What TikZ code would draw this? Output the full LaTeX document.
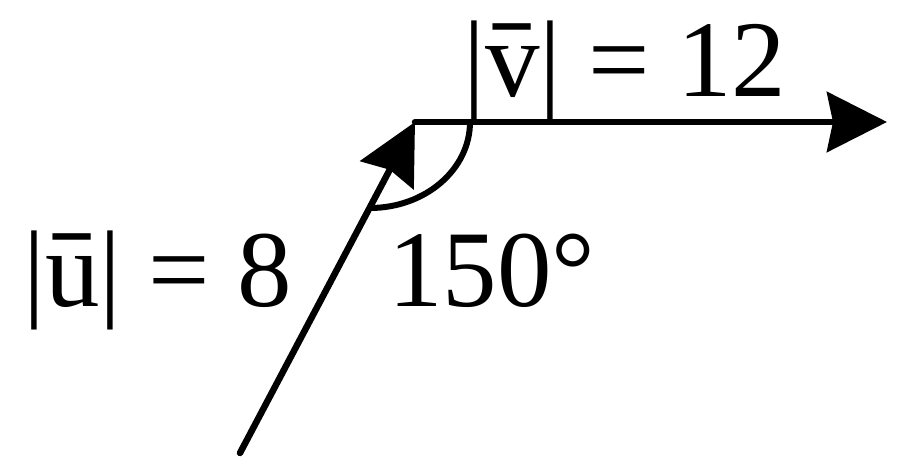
\documentclass[tikz,border=0pt]{standalone}
\usepackage{fontspec}
\setmainfont{Liberation Serif}
\usetikzlibrary{calc,arrows.meta}
\newcommand{\barred}[1]{\ooalign{#1\cr\hidewidth\raisebox{0.45em}{\scalebox{1.35}[0.8]{-}}\hidewidth\cr}}

\begin{document}
\begin{tikzpicture}[x=1pt, y=1pt, line cap=round, line join=round,
    vec/.style={line width=6.5pt, -{Stealth[length=60pt,width=60pt,inset=6pt]}},
    lbl/.style={anchor=base west, inner sep=0pt, font=\fontsize{109}{120}\selectfont}]
  \useasboundingbox (0,0) rectangle (900,473);

  % points
  \coordinate (O) at (415,351);
  \coordinate (U) at (240,20);
  \coordinate (V) at (887,351);

  % vectors
  \draw[vec] (U) -- (O);
  \draw[vec] (O) -- (V);

  % angle between u and v
  \draw[line width=6pt]
    ($(O)+(55,0)$) arc[start angle=0, end angle=-90, x radius=100, y radius=86];

  % labels
  \node[lbl] (vlabel) at (463,376) {|\barred{v}| = 12};
  \node[lbl] (ulabel) at (23,166)  {|\barred{u}| = 8};
  \node[lbl] (alabel) at (388,166) {150°};
\end{tikzpicture}
\end{document}
